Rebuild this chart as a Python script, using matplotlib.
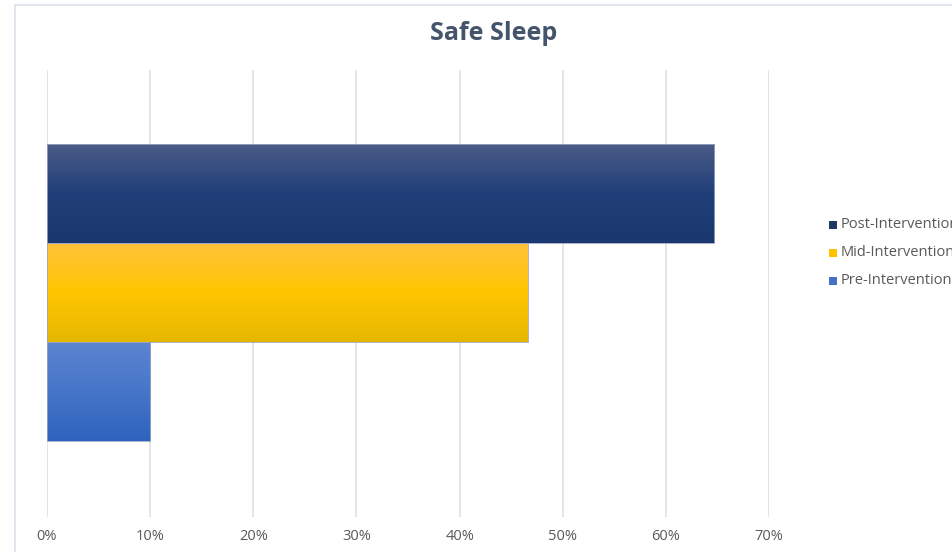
import numpy as np
import matplotlib.pyplot as plt
from matplotlib.patches import Rectangle
from matplotlib.colors import LinearSegmentedColormap

plt.rcParams['font.family'] = ['Open Sans', 'DejaVu Sans']

# data
series = ['Post-Intervention', 'Mid-Intervention', 'Pre-Intervention']
values = [0.647, 0.466, 0.10]
xticks = [0, 0.1, 0.2, 0.3, 0.4, 0.5, 0.6, 0.7]
xtick_labels = ['0%', '10%', '20%', '30%', '40%', '50%', '60%', '70%']

# gradient stops (top, middle, bottom) and legend colours
grads = [['#4B5B86', '#203F78', '#1A376F'],
         ['#FFC23A', '#FFC600', '#E6B700'],
         ['#5C84D1', '#4676C9', '#2E62BC']]
solid = ['#203864', '#FFC000', '#4472C4']

fig = plt.figure(figsize=(9.53, 5.52), dpi=100)
ax = fig.add_axes([47/953, 1 - 517/552, (769-47)/953, (517-70)/552])

# chart border (top/left visible)
fig.add_artist(plt.Line2D([15/953, 1], [1 - 5/552, 1 - 5/552], color='#DDE3EC', lw=1.2))
fig.add_artist(plt.Line2D([15/953, 15/953], [0, 1 - 5/552], color='#DDE3EC', lw=1.2))

ypos = [2, 1, 0]
bars = ax.barh(ypos, values, height=1.0, color='none', edgecolor='none', zorder=2)
for b, g in zip(bars, grads):
    cmap = LinearSegmentedColormap.from_list('g', g)
    grad = np.linspace(0, 1, 256).reshape(-1, 1)
    x0, y0 = b.get_x(), b.get_y()
    w, h = b.get_width(), b.get_height()
    im = ax.imshow(grad, cmap=cmap, aspect='auto', extent=[x0, x0 + w, y0, y0 + h],
                   origin='upper', zorder=2)
    im.set_clip_path(b)
    ax.add_patch(Rectangle((x0, y0), w, h, fill=False, edgecolor='#9AA6BF', lw=0.6, zorder=3))

ax.set_xlim(0, 0.7)
ax.set_ylim(-1.27, 3.25)
ax.set_xticks(xticks)
ax.set_xticklabels(xtick_labels, color='#595959', fontsize=10.5)
ax.tick_params(axis='x', length=0, pad=9)
ax.set_yticks([])
ax.grid(axis='x', color='#DCE1EA', lw=1.2, zorder=0)
ax.set_axisbelow(True)
for s in ax.spines.values():
    s.set_visible(False)

fig.text(494/953, 1 - 34/552, 'Safe Sleep', ha='center', va='center',
         fontsize=18, fontweight='bold', color='#44546A')

# legend, clipped by figure edge like the reference
for i, (name, c) in enumerate(zip(series, solid)):
    y = 1 - (225 + 28 * i) / 552
    fig.add_artist(Rectangle((829/953, y - 4/552), 8/953, 8/552, transform=fig.transFigure,
                             facecolor=c, edgecolor='none'))
    fig.text(841/953, y, name, ha='left', va='center', fontsize=10.5, color='#595959')

fig.savefig('out.png', dpi=100)
